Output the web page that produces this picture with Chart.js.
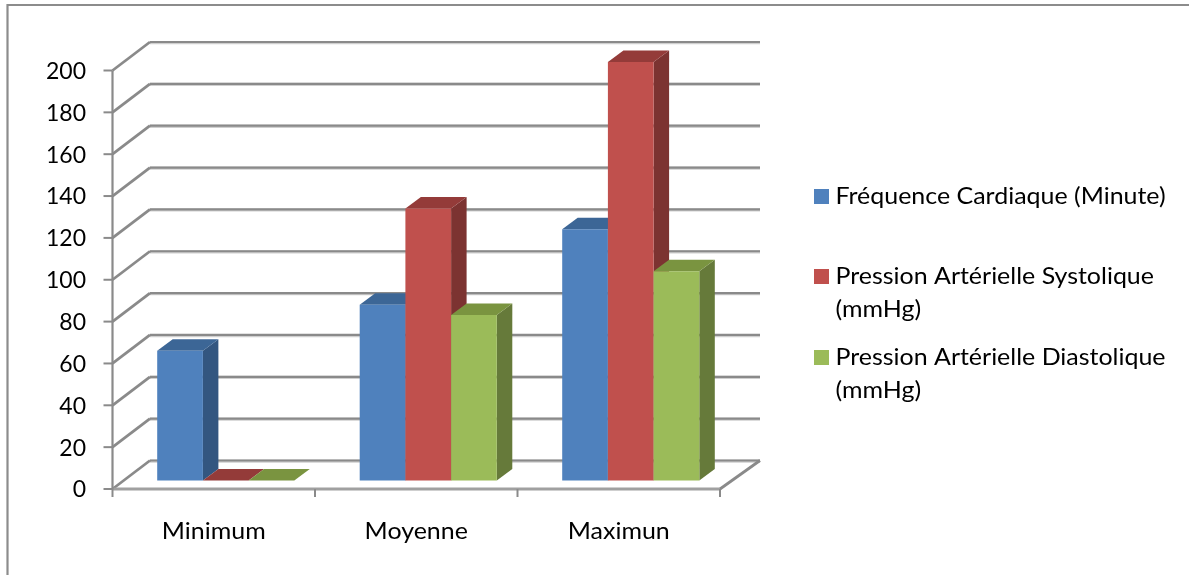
<!DOCTYPE html>
<html lang="fr">
<head>
<meta charset="utf-8">
<title>Fréquence cardiaque et pression artérielle</title>
<script src="https://cdn.jsdelivr.net/npm/chart.js@4/dist/chart.umd.min.js"></script>
<style>
  html, body { margin: 0; padding: 0; background: #fff; }
  #wrap { position: relative; width: 1189px; height: 575px; }
</style>
</head>
<body>
<div id="wrap"><canvas id="chart" width="1189" height="575"></canvas></div>
<script>
// Values
const categories = ["Minimum", "Moyenne", "Maximun"];
const frequenceCardiaque = [62, 84, 120];
const pressionSystolique = [0, 130, 200];
const pressionDiastolique = [0, 79, 100];

// Legend wording, one entry per series, split the way it wraps
const seriesNames = [
  ["Fréquence Cardiaque (Minute)"],
  ["Pression Artérielle Systolique", "(mmHg)"],
  ["Pression Artérielle Diastolique", "(mmHg)"]
];

// Series colours: front, top and side faces
const frontColors = ["#4F81BD", "#C0504D", "#9BBB59"];
const topColors = ["#3C6696", "#943B39", "#7A9440"];
const sideColors = ["#335680", "#7C3331", "#667A3A"];

// Oblique projection of the 3D box
const wall = { dxLeft: 37.5, dxRight: 40, dy: -28.5 }; // front axis plane to back wall
const barShift = { dx: 12, dy: -8.6 };  // front axis plane to front of the bars
const barDepth = { dx: 15.5, dy: -11.5 }; // thickness of a bar
const gridColor = "#8A8A8A";
const fontFamily = "Lato, 'Open Sans', sans-serif";
const numberSize = 23;
const textSize = 23;
const textStretch = 1.085;  // labels are set slightly wide

function line(ctx, x1, y1, x2, y2, color, width) {
  ctx.strokeStyle = color;
  ctx.lineWidth = width;
  ctx.beginPath();
  ctx.moveTo(x1, y1);
  ctx.lineTo(x2, y2);
  ctx.stroke();
}

function poly(ctx, color, pts) {
  ctx.fillStyle = color;
  ctx.beginPath();
  pts.forEach((p, i) => (i ? ctx.lineTo(p[0], p[1]) : ctx.moveTo(p[0], p[1])));
  ctx.closePath();
  ctx.fill();
}

// Horizontally widened label, anchored at x according to align
function wideText(ctx, txt, x, y, align) {
  ctx.save();
  ctx.font = textSize + "px " + fontFamily;
  ctx.fillStyle = "#000";
  ctx.textAlign = align;
  ctx.textBaseline = "alphabetic";
  ctx.translate(x, y);
  ctx.scale(textStretch, 1);
  ctx.fillText(txt, 0, 0);
  ctx.restore();
}

// Back wall, side wall, floor and outer frame
function drawBox(chart) {
  const ctx = chart.ctx;
  const { left, right, bottom, top } = chart.chartArea;
  const yScale = chart.scales.y;
  ctx.save();
  ctx.lineCap = "butt";

  // frame: top and left edges only
  line(ctx, 7.5, 5, 1189, 5, "#8C8C8C", 2.2);
  line(ctx, 7.5, 4, 7.5, 575, "#8C8C8C", 2.2);

  const backL = left + wall.dxLeft, backR = right + wall.dxRight;
  yScale.ticks.forEach(t => {
    const y = yScale.getPixelForValue(t.value);
    const by = y + wall.dy;
    line(ctx, backL, by + 0.6, backR, by + 0.6, "#CFCFCF", 3.2);
    line(ctx, backL, by, backR, by, gridColor, 2.2);
    line(ctx, left, y, backL, by, gridColor, 2.8);
    line(ctx, left - 9, y, left, y, gridColor, 2);
  });

  // floor
  line(ctx, right, bottom, backR, bottom + wall.dy, gridColor, 2.8);
  line(ctx, left, bottom, right, bottom, "#A0A0A0", 2.8);

  // vertical axis
  line(ctx, left, top, left, bottom, gridColor, 2.2);

  // category ticks
  for (let i = 0; i <= categories.length; i++) {
    const x = left + (right - left) * i / categories.length;
    line(ctx, x, bottom, x, bottom + 8, gridColor, 2);
  }
  ctx.restore();
}

// Top and side faces of every bar of one series
function drawFaces(chart, index) {
  const ctx = chart.ctx;
  const { dx, dy } = barDepth;
  chart.getDatasetMeta(index).data.forEach(bar => {
    const l = bar.x - bar.width / 2, r = bar.x + bar.width / 2;
    const t = bar.y, b = bar.base;
    poly(ctx, sideColors[index], [[r, t], [r + dx, t + dy], [r + dx, b + dy], [r, b]]);
    poly(ctx, topColors[index], [[l, t], [l + dx, t + dy], [r + dx, t + dy], [r, t]]);
  });
}

const box3d = {
  id: "box3d",
  beforeDatasetsDraw(chart) {
    drawBox(chart);
    const ctx = chart.ctx;
    // series are painted left to right so each one hides the side of the previous
    ctx.save();
    ctx.translate(barShift.dx, barShift.dy);
    chart.data.datasets.forEach((ds, i) => {
      drawFaces(chart, i);
      chart.getDatasetMeta(i).controller.draw();
    });
    ctx.restore();
    return false;
  }
};

const wideLabels = {
  id: "wideLabels",
  afterDraw(chart) {
    const ctx = chart.ctx;
    const xScale = chart.scales.x;

    // category names below the axis
    categories.forEach((name, i) => {
      wideText(ctx, name, xScale.getPixelForValue(i), 539, "center");
    });

    // legend on the right
    const swatchX = 814, textX = 835.5, swatch = 15, lineGap = 32.5;
    const firstBaselines = [204, 284, 365];
    seriesNames.forEach((lines, i) => {
      const base = firstBaselines[i];
      ctx.fillStyle = frontColors[i];
      ctx.fillRect(swatchX, base - swatch, swatch, swatch);
      lines.forEach((txt, j) => wideText(ctx, txt, textX, base + j * lineGap, "left"));
    });
  }
};

new Chart(document.getElementById("chart"), {
  type: "bar",
  data: {
    labels: categories,
    datasets: [frequenceCardiaque, pressionSystolique, pressionDiastolique].map((values, i) => ({
      label: seriesNames[i].join(" "),
      data: values,
      backgroundColor: frontColors[i],
      borderWidth: 0,
      barPercentage: 1,
      categoryPercentage: 0.677
    }))
  },
  plugins: [box3d, wideLabels],
  options: {
    responsive: false,
    animation: false,
    layout: { padding: { left: 0, right: 469, top: 70.5, bottom: 0 } },
    plugins: { legend: { display: false }, tooltip: { enabled: false }, title: { display: false } },
    scales: {
      x: {
        grid: { display: false, drawTicks: false },
        border: { display: false },
        ticks: { display: false },
        afterFit(scale) { scale.height = 86; }
      },
      y: {
        min: 0,
        max: 200,
        grid: { display: false, drawTicks: false },
        border: { display: false },
        ticks: { stepSize: 20, color: "#000", font: { family: fontFamily, size: numberSize }, padding: 26.5, labelOffset: 1 },
        afterFit(scale) { scale.width = 112.5; }
      }
    }
  }
});
</script>
</body>
</html>
